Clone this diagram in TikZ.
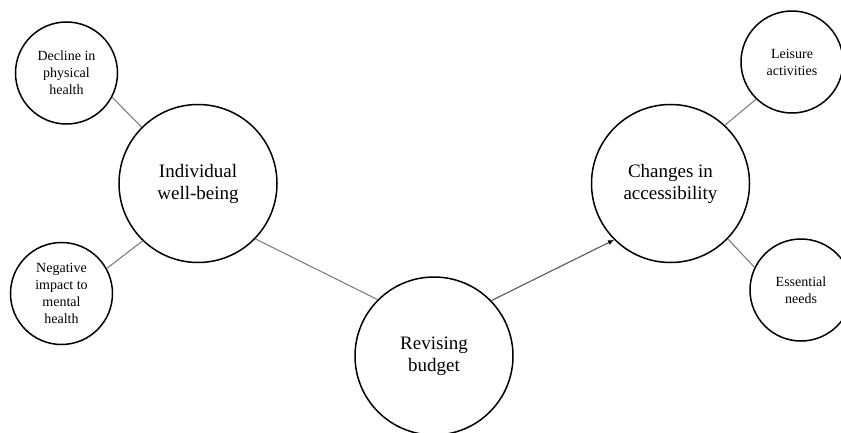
\documentclass[tikz,border=0pt]{standalone}
\usepackage{fontspec}
\setmainfont{Liberation Serif}
\usetikzlibrary{arrows.meta}
\begin{document}
\begin{tikzpicture}[x=1pt,y=1pt,
  big/.style={circle,draw=black,line width=1.5pt,inner sep=0pt,minimum size=158pt,align=center,font=\fontsize{19}{22}\selectfont},
  small/.style={circle,draw=black,line width=1.5pt,inner sep=0pt,minimum size=102pt,align=center,font=\fontsize{14}{17}\selectfont},
  link/.style={draw=black!50,line width=1.1pt},
  arr/.style={draw=black!65,line width=1.1pt,-{Latex[length=6pt,width=5pt,black]}}]
\clip (0,0) rectangle (841,432);
\fill[white] (0,0) rectangle (841,432);
\node[small] (dec) at (66.5,359) {Decline in\\physical\\health};
\node[big] (ind) at (198,248.5) {Individual\\well-being};
\node[small] (neg) at (61.5,138.5) {Negative\\impact to\\mental\\health};
\node[big] (rev) at (434,76) {Revising\\budget};
\node[big] (cha) at (670.5,248.5) {Changes in\\accessibility};
\node[small] (lei) at (792,370) {Leisure\\activities};
\node[small] (ess) at (801,142) {Essential\\needs};
\draw[link] (dec.-28) -- (ind.135);
\draw[link] (neg.29) -- (ind.226);
\draw[link] (ind.-44) -- (rev.135);
\draw[arr] (rev.44.5) -- (cha.225);
\draw[link] (cha.47) -- (lei.226);
\draw[link] (cha.-44.5) -- (ess.154);
\end{tikzpicture}
\end{document}
